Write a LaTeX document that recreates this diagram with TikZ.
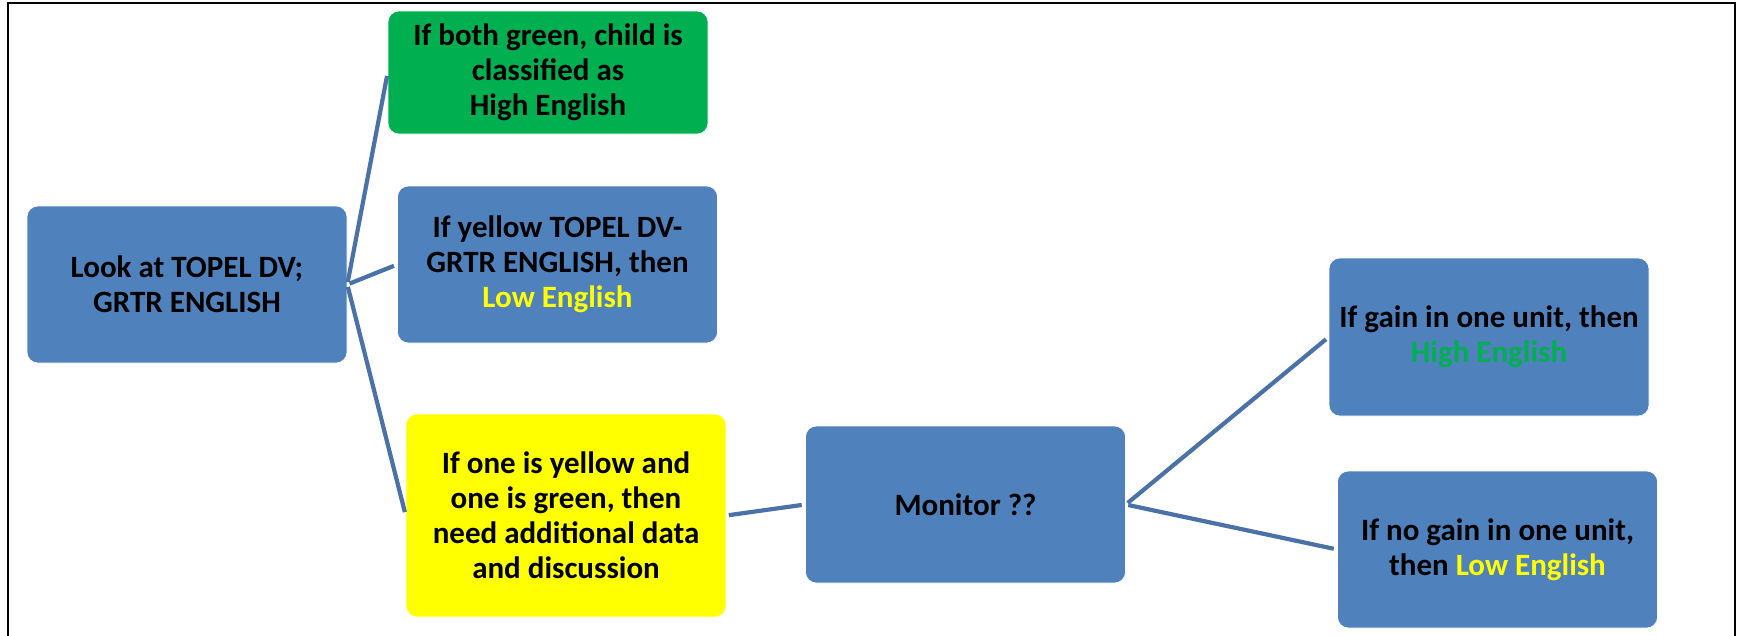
\documentclass[tikz,border=0pt]{standalone}
\usepackage{fontspec}
\setmainfont{Carlito}
\definecolor{boxblue}{HTML}{4F81BD}
\definecolor{lineblue}{HTML}{4A72A8}
\definecolor{boxgreen}{HTML}{00B050}
\definecolor{boxyellow}{HTML}{FFFF00}
\begin{document}
\begin{tikzpicture}[x=1pt,y=-1pt,
  box/.style={rounded corners=11pt, draw=white, line width=0.6pt, fill=boxblue,
    minimum width=320pt, inner sep=0pt, align=center,
    font=\fontsize{31}{35}\selectfont\bfseries},
  conn/.style={draw=lineblue, line width=4.2pt, shorten <=2.5pt, shorten >=3.5pt}]
\useasboundingbox (0,0) rectangle (1739,635);
\draw[line width=2pt] (8,640) -- (8,3) -- (1735,3) -- (1735,640);
\node[box, minimum height=157pt] (look) at (187,284.5) {Look at TOPEL DV;\\GRTR ENGLISH};
\node[box, fill=boxgreen, minimum height=123pt] (green) at (548,72.5) {If both green, child is\\classified as\\High English};
\node[box, minimum height=157pt] (ylw) at (557.5,264.5) {If yellow TOPEL DV-\\GRTR ENGLISH, then\\\textcolor{boxyellow}{Low English}};
\node[box, fill=boxyellow, minimum height=203pt] (mix) at (566,515.5) {If one is yellow and\\one is green, then\\need additional data\\and discussion};
\node[box, minimum height=157pt] (mon) at (965.5,504.5) {Monitor ??};
\node[box, minimum height=158pt] (hi) at (1489,337) {If gain in one unit, then\\\textcolor{boxgreen}{High English}};
\node[box, minimum height=157pt] (lo) at (1497.5,549.5) {If no gain in one unit,\\then \textcolor{boxyellow}{Low English}};
\draw[conn] (look.east) -- (green.west);
\draw[conn] (look.east) -- (ylw.west);
\draw[conn] (look.east) -- (mix.west);
\draw[conn] (mix.east) -- (mon.west);
\draw[conn] (mon.east) -- (hi.west);
\draw[conn] (mon.east) -- (lo.west);
\end{tikzpicture}
\end{document}
